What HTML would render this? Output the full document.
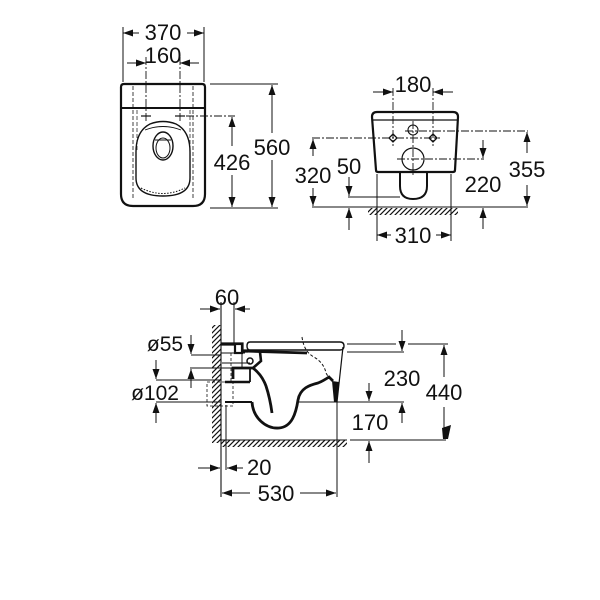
<!DOCTYPE html>
<html><head><meta charset="utf-8"><style>
html,body{margin:0;padding:0;background:#fff}
svg{display:block}
text{font-family:"Liberation Sans",Arial,sans-serif;font-size:22px;fill:#111;text-anchor:middle}
</style></head><body>
<svg width="600" height="600" viewBox="0 0 600 600" xmlns="http://www.w3.org/2000/svg">
<defs>
<marker id="a" markerWidth="10" markerHeight="7" refX="10" refY="3.5" orient="auto" markerUnits="userSpaceOnUse"><path d="M0,0 L10,3.5 L0,7 Z" fill="#111"/></marker>
<pattern id="h" width="5" height="5" patternUnits="userSpaceOnUse"><path d="M0,5 L5,0 M-1,1 L1,-1 M4,6 L6,4" stroke="#111" stroke-width="1.2"/></pattern>
</defs>
<rect width="600" height="600" fill="#fff"/>

<!-- ============ TOP-LEFT VIEW ============ -->
<g fill="none" stroke="#111">
  <path d="M124,84 H202 Q205,84 205,87 V194 Q205,206 193,206 H133 Q121,206 121,194 V87 Q121,84 124,84 Z" stroke-width="2.2"/>
  <line x1="121" y1="108" x2="205" y2="108" stroke-width="2"/>
  <line x1="133" y1="86" x2="133" y2="200" stroke-width="0.8" stroke-dasharray="4 2"/>
  <line x1="193" y1="86" x2="193" y2="200" stroke-width="0.8" stroke-dasharray="4 2"/>
  <line x1="137" y1="110" x2="137" y2="150" stroke-width="0.7" stroke-dasharray="4 2"/>
  <line x1="190" y1="110" x2="190" y2="150" stroke-width="0.7" stroke-dasharray="4 2"/>
  <line x1="146" y1="57" x2="146" y2="121" stroke-width="0.9" stroke-dasharray="8 2 2 2"/>
  <line x1="180" y1="57" x2="180" y2="121" stroke-width="0.9" stroke-dasharray="8 2 2 2"/>
  <line x1="141" y1="116" x2="151" y2="116" stroke-width="1.2"/>
  <line x1="175" y1="116" x2="185" y2="116" stroke-width="1.2"/>
  <line x1="186" y1="116" x2="235" y2="116" stroke-width="0.9" stroke-dasharray="8 2 2 2"/>
  <path d="M150,124 Q163,119 176,124 Q190,131 190,152 V178 Q190,196 163,196 Q136,196 136,178 V152 Q136,131 150,124 Z" stroke-width="1.4"/>
  <path d="M145,130 Q163,123 181,130" stroke-width="0.9"/>
  <path d="M141,188 Q163,199 185,188" stroke-width="1" stroke-dasharray="1.5 1.5"/>
  <ellipse cx="163" cy="146" rx="10" ry="14" stroke-width="1.4"/>
  <ellipse cx="163" cy="148" rx="7" ry="10" stroke-width="1"/>
  <line x1="155" y1="140" x2="171" y2="140" stroke-width="1"/>

  <g stroke-width="1">
    <line x1="123" y1="27" x2="123" y2="82"/>
    <line x1="204" y1="27" x2="204" y2="82"/>
    <line x1="139" y1="33" x2="123" y2="33" marker-end="url(#a)"/>
    <line x1="187" y1="33" x2="204" y2="33" marker-end="url(#a)"/>
    <line x1="127" y1="63" x2="146" y2="63" marker-end="url(#a)"/>
    <line x1="199" y1="63" x2="180" y2="63" marker-end="url(#a)"/>
    <line x1="210" y1="84" x2="278" y2="84"/>
    <line x1="210" y1="208" x2="278" y2="208"/>
    <line x1="272" y1="133" x2="272" y2="85" marker-end="url(#a)"/>
    <line x1="272" y1="160" x2="272" y2="207" marker-end="url(#a)"/>
    <line x1="232" y1="146" x2="232" y2="117" marker-end="url(#a)"/>
    <line x1="232" y1="175" x2="232" y2="207" marker-end="url(#a)"/>
  </g>
</g>
<text x="163" y="40">370</text>
<text x="163" y="63">160</text>
<text x="272" y="155">560</text>
<text x="232" y="170">426</text>

<!-- ============ TOP-RIGHT VIEW ============ -->
<g fill="none" stroke="#111">
  <path d="M377,112 H453 Q458,112 458,117 L455,170 Q455,172 453,172 H378 Q376,172 376,170 L372,117 Q372,112 377,112 Z" stroke-width="2.2"/>
  <line x1="373" y1="120" x2="457" y2="120" stroke-width="1.3"/>
  <path d="M400,172 V186 Q400,199 413,199 Q427,199 427,186 V172" stroke-width="2"/>
  <g stroke-width="0.9" stroke-dasharray="8 2 2 2">
    <line x1="312" y1="138" x2="440" y2="138"/>
    <line x1="405" y1="131" x2="528" y2="131"/>
    <line x1="397" y1="159" x2="484" y2="159"/>
    <line x1="393" y1="88" x2="393" y2="146"/>
    <line x1="433" y1="88" x2="433" y2="146"/>
    <line x1="413" y1="121" x2="413" y2="176"/>
  </g>
  <circle cx="413" cy="130" r="5" stroke-width="1.1"/>
  <circle cx="413" cy="159" r="11" stroke-width="1.2"/>
  <path d="M393,134 L397,138 L393,142 L389,138 Z M433,134 L437,138 L433,142 L429,138 Z" stroke-width="1.3"/>
  <line x1="312" y1="207" x2="528" y2="207" stroke-width="1"/>
  <g stroke-width="1">
    <line x1="377" y1="174" x2="377" y2="241"/>
    <line x1="451" y1="174" x2="451" y2="241"/>
    <line x1="391" y1="235" x2="377" y2="235" marker-end="url(#a)"/>
    <line x1="436" y1="235" x2="451" y2="235" marker-end="url(#a)"/>
    <line x1="373" y1="92" x2="393" y2="92" marker-end="url(#a)"/>
    <line x1="453" y1="92" x2="433" y2="92" marker-end="url(#a)"/>
    <line x1="313" y1="156" x2="313" y2="139" marker-end="url(#a)"/>
    <line x1="313" y1="188" x2="313" y2="206" marker-end="url(#a)"/>
    <line x1="348" y1="197" x2="400" y2="197"/>
    <line x1="349" y1="177" x2="349" y2="196" marker-end="url(#a)"/>
    <line x1="349" y1="230" x2="349" y2="208" marker-end="url(#a)"/>
    <line x1="483" y1="140" x2="483" y2="158" marker-end="url(#a)"/>
    <line x1="483" y1="229" x2="483" y2="208" marker-end="url(#a)"/>
    <line x1="527" y1="153" x2="527" y2="132" marker-end="url(#a)"/>
    <line x1="527" y1="185" x2="527" y2="206" marker-end="url(#a)"/>
  </g>
</g>
<rect x="368" y="208" width="90" height="7" fill="url(#h)"/>
<text x="413" y="92">180</text>
<text x="413" y="243">310</text>
<text x="313" y="183">320</text>
<text x="349" y="174">50</text>
<text x="483" y="192">220</text>
<text x="527" y="177">355</text>

<!-- ============ SIDE VIEW ============ -->
<rect x="212" y="325" width="9" height="118" fill="url(#h)"/>
<rect x="221" y="440" width="126" height="7" fill="url(#h)"/>
<g fill="none" stroke="#111">
  <line x1="221" y1="302" x2="221" y2="497" stroke-width="1.1"/>
  <line x1="221" y1="440" x2="347" y2="440" stroke-width="1"/>
  <line x1="350" y1="440" x2="446" y2="440" stroke-width="1"/>
  <line x1="234" y1="302" x2="234" y2="344" stroke-width="1"/>
  <line x1="231" y1="353" x2="231" y2="382" stroke-width="0.8" stroke-dasharray="3 2"/>
  <rect x="207" y="382" width="26" height="24" stroke-width="0.8" stroke-dasharray="3 2"/>
  <line x1="226" y1="405" x2="226" y2="470" stroke-width="1"/>
  <line x1="337" y1="402" x2="337" y2="497" stroke-width="1"/>

  <path d="M250,342 H340 Q344,342 344,346 Q344,350 340,350 H250 Q247,350 247,346 Q247,342 250,342 Z" stroke-width="1.4"/>
  <line x1="243" y1="351" x2="307" y2="353" stroke-width="2.8"/>
  <path d="M221,344 H242 V351 H248" stroke-width="3.2"/>
  <rect x="235" y="344" width="7" height="9" stroke-width="2.2" fill="#fff"/>
  <line x1="221" y1="353" x2="245" y2="353" stroke-width="1"/>
  <line x1="222" y1="363" x2="250" y2="363" stroke-width="1"/>
  <circle cx="250" cy="361" r="3" stroke-width="1.5"/>
  <path d="M260,352 L261,361 L253,368" stroke-width="2.6"/>
  <path d="M253,368 Q262,375 266,386 Q270,398 272,413" stroke-width="2.8"/>
  <path d="M233,379 V368 H253" stroke-width="2.8"/>
  <line x1="242" y1="353" x2="242" y2="368" stroke-width="1"/>
  <line x1="250" y1="368" x2="250" y2="382" stroke-width="1.8"/>
  <line x1="225" y1="382" x2="250" y2="382" stroke-width="2.6"/>
  <line x1="225" y1="402" x2="252" y2="402" stroke-width="2"/>
  <path d="M252,402 C253,418 266,429 279,428 C292,427 296,413 298,400 C300,388 310,385 318,383 C323,381 326,379 329,377 L333,381" stroke-width="2.8"/>
  <line x1="343" y1="347" x2="337" y2="402" stroke-width="1.2"/>
  <path d="M302,337 Q304,352 314,357 Q324,363 326,373 L329,378" stroke-width="1" stroke-dasharray="3 2"/>

  <g stroke-width="1">
    <line x1="347" y1="344" x2="396" y2="344"/>
    <line x1="408" y1="344" x2="448" y2="344"/>
    <line x1="347" y1="352" x2="404" y2="352"/>
    <line x1="297" y1="402" x2="404" y2="402"/>
    <line x1="191" y1="355" x2="221" y2="355"/>
    <line x1="190" y1="368" x2="250" y2="368"/>
    <line x1="156" y1="380" x2="221" y2="380"/>
    <line x1="156" y1="402" x2="221" y2="402"/>
    <line x1="200" y1="309" x2="220" y2="309" marker-end="url(#a)"/>
    <line x1="250" y1="309" x2="235" y2="309" marker-end="url(#a)"/>
    <line x1="191" y1="335" x2="191" y2="354" marker-end="url(#a)"/>
    <line x1="191" y1="388" x2="191" y2="369" marker-end="url(#a)"/>
    <line x1="156" y1="360" x2="156" y2="379" marker-end="url(#a)"/>
    <line x1="156" y1="423" x2="156" y2="403" marker-end="url(#a)"/>
    <line x1="402" y1="330" x2="402" y2="351" marker-end="url(#a)"/>
    <line x1="402" y1="423" x2="402" y2="403" marker-end="url(#a)"/>
    <line x1="369" y1="383" x2="369" y2="401" marker-end="url(#a)"/>
    <line x1="369" y1="463" x2="369" y2="441" marker-end="url(#a)"/>
    <line x1="444" y1="377" x2="444" y2="345" marker-end="url(#a)"/>
    <line x1="444" y1="407" x2="444" y2="428"/>
    <line x1="198" y1="468" x2="220" y2="468" marker-end="url(#a)"/>
    <line x1="243" y1="468" x2="227" y2="468" marker-end="url(#a)"/>
    <line x1="250" y1="493" x2="222" y2="493" marker-end="url(#a)"/>
    <line x1="300" y1="493" x2="336" y2="493" marker-end="url(#a)"/>
  </g>
</g>
<polygon points="332,381 339,382 337,402 334,402" fill="#111"/>
<polygon points="442,428 451,425 448,439 443,439" fill="#111"/>
<text x="227" y="305">60</text>
<text x="165" y="351" style="font-size:21px">ø55</text>
<text x="155" y="400" style="font-size:21px">ø102</text>
<text x="402" y="386">230</text>
<text x="370" y="430">170</text>
<text x="444" y="400">440</text>
<text x="247" y="475" style="text-anchor:start">20</text>
<text x="276" y="501">530</text>
</svg>
</body></html>
